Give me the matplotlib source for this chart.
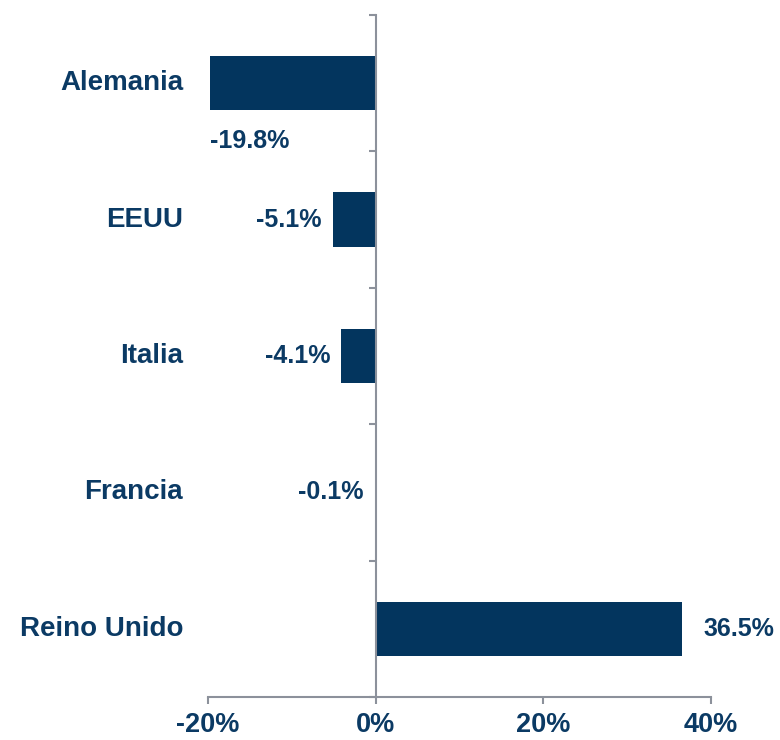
import matplotlib
matplotlib.use('Agg')
import matplotlib.pyplot as plt
from matplotlib.ticker import FuncFormatter

plt.rcParams['font.family'] = ['Liberation Sans', 'DejaVu Sans']

# datos
paises = ['Alemania', 'EEUU', 'Italia', 'Francia', 'Reino Unido']
variacion = [-19.8, -5.1, -4.1, -0.1, 36.5]
ticks_x = [-20, 0, 20, 40]

azul = '#03355E'
texto = '#0B3A64'
gris = '#8C919B'

fig = plt.figure(figsize=(7.8, 7.4), dpi=100)
ax = fig.add_axes([0.2667, 0.0581, 0.9115 - 0.2667, 0.9797 - 0.0581])

pos = list(range(len(paises)))
ax.barh(pos, variacion, height=0.4, color=azul, zorder=2)

ax.set_xlim(-20, 40)
ax.set_ylim(len(paises) - 0.5, -0.5)

# ejes
for s in ['top', 'right']:
    ax.spines[s].set_visible(False)
ax.spines['left'].set_position(('data', 0))
ax.spines['left'].set_color(gris)
ax.spines['left'].set_linewidth(1.5)
ax.spines['bottom'].set_color(gris)
ax.spines['bottom'].set_linewidth(1.5)

ax.set_yticks([p - 0.5 for p in pos] + [len(paises) - 0.5])
ax.set_yticklabels([])
ax.tick_params(axis='y', direction='out', length=5, width=1.5, color=gris)

ax.set_xticks(ticks_x)
ax.xaxis.set_major_formatter(FuncFormatter(lambda v, p: '%d%%' % v))
ax.tick_params(axis='x', direction='out', length=5, width=1.5, color=gris,
               labelsize=19.5, labelcolor=texto, pad=5.5)
for t in ax.get_xticklabels():
    t.set_fontweight('bold')

# nombres de paises
for p, nombre in zip(pos, paises):
    ax.annotate(nombre, xy=(0, p), xycoords=('axes fraction', 'data'),
                xytext=(-25, 0), textcoords='offset pixels',
                ha='right', va='center', fontsize=20, fontweight='bold', color=texto)

# etiquetas de datos
for p, v in zip(pos, variacion):
    lab = '%.1f%%' % v
    if v >= 0:
        ax.annotate(lab, xy=(v, p), xytext=(22, 0), textcoords='offset pixels',
                    ha='left', va='center', fontsize=18, fontweight='bold', color=texto)
    elif v < -15:
        ax.annotate(lab, xy=(v, p), xytext=(0, -58), textcoords='offset pixels',
                    ha='left', va='center', fontsize=18, fontweight='bold', color=texto)
    else:
        ax.annotate(lab, xy=(v, p), xytext=(-11, 0), textcoords='offset pixels',
                    ha='right', va='center', fontsize=18, fontweight='bold', color=texto)

plt.savefig('out.png', dpi=100)
plt.close()
